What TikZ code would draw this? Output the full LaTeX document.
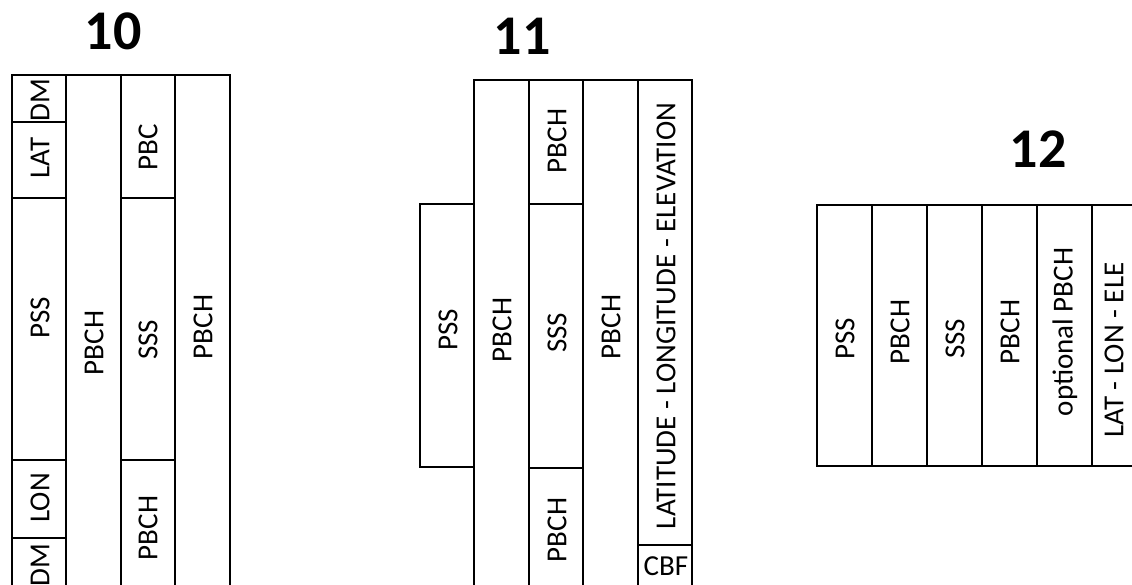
\documentclass[tikz,border=0pt]{standalone}
\usepackage{fontspec}
\setmainfont{Carlito}
\begin{document}
\begin{tikzpicture}[x=1pt,y=-1pt,
  box/.style={draw=black,line width=2.6pt,fill=white},
  lbl/.style={inner sep=0pt,font=\fontsize{29}{31}\selectfont,rotate=90},
  hlbl/.style={inner sep=0pt,font=\fontsize{29}{31}\selectfont},
  ttl/.style={inner sep=0pt,font=\fontsize{56}{60}\selectfont\bfseries}]
\useasboundingbox (0,0) rectangle (1132,585);
\clip (0,0) rectangle (1132,585);
% ---------- 10 ----------
\node[ttl] (t10) at (113,31) {10};
\draw[box] (12,75) rectangle (66,122);
\draw[box] (12,122) rectangle (66,198);
\draw[box] (12,198) rectangle (66,460);
\draw[box] (12,460) rectangle (66,538);
\draw[box] (12,538) rectangle (66,600);
\draw[box] (66,75) rectangle (121,600);
\draw[box] (121,75) rectangle (175,198);
\draw[box] (121,198) rectangle (175,460);
\draw[box] (121,460) rectangle (175,600);
\draw[box] (175,75) rectangle (230,600);
\node[lbl] (a1) at (40,100) {DM};
\node[lbl] (a2) at (40,158) {LAT};
\node[lbl] (a3) at (40,318) {PSS};
\node[lbl] (a4) at (40,498) {LON};
\node[lbl] (a5) at (40,565) {DM};
\node[lbl] (a6) at (94,343) {PBCH};
\node[lbl] (a7) at (148,147) {PBC};
\node[lbl] (a8) at (148,340) {SSS};
\node[lbl] (a9) at (148,528) {PBCH};
\node[lbl] (a10) at (203,327) {PBCH};
% ---------- 11 ----------
\node[ttl] (t11) at (522,36) {11};
\draw[box] (420,204) rectangle (474,467);
\draw[box] (474,80) rectangle (529,600);
\draw[box] (529,80) rectangle (583,204);
\draw[box] (529,204) rectangle (583,468);
\draw[box] (529,468) rectangle (583,600);
\draw[box] (583,80) rectangle (638,600);
\draw[box] (638,80) rectangle (692,545);
\draw[box] (638,545) rectangle (692,600);
\node[lbl] (b1) at (448,330) {PSS};
\node[lbl] (b2) at (502,330) {PBCH};
\node[lbl] (b3) at (557,141) {PBCH};
\node[lbl] (b4) at (557,333) {SSS};
\node[lbl] (b5) at (557,530) {PBCH};
\node[lbl] (b6) at (611,327) {PBCH};
\node[lbl] (b7) at (666,316) {LATITUDE - LONGITUDE - ELEVATION};
\node[hlbl] (b8) at (666,566) {CBF};
% ---------- 12 ----------
\node[ttl] (t12) at (1038,149) {12};
\draw[box] (817,205) rectangle (872,466);
\draw[box] (872,205) rectangle (927,466);
\draw[box] (927,205) rectangle (982,466);
\draw[box] (982,205) rectangle (1037,466);
\draw[box] (1037,205) rectangle (1092,466);
\draw[box] (1092,205) rectangle (1150,466);
\node[lbl] (c1) at (845,339) {PSS};
\node[lbl] (c2) at (900,332) {PBCH};
\node[lbl] (c3) at (955,339) {SSS};
\node[lbl] (c4) at (1010,332) {PBCH};
\node[lbl] (c5) at (1065,332) {optional PBCH};
\node[lbl] (c6) at (1114,350) {LAT - LON - ELE};
\end{tikzpicture}
\end{document}
